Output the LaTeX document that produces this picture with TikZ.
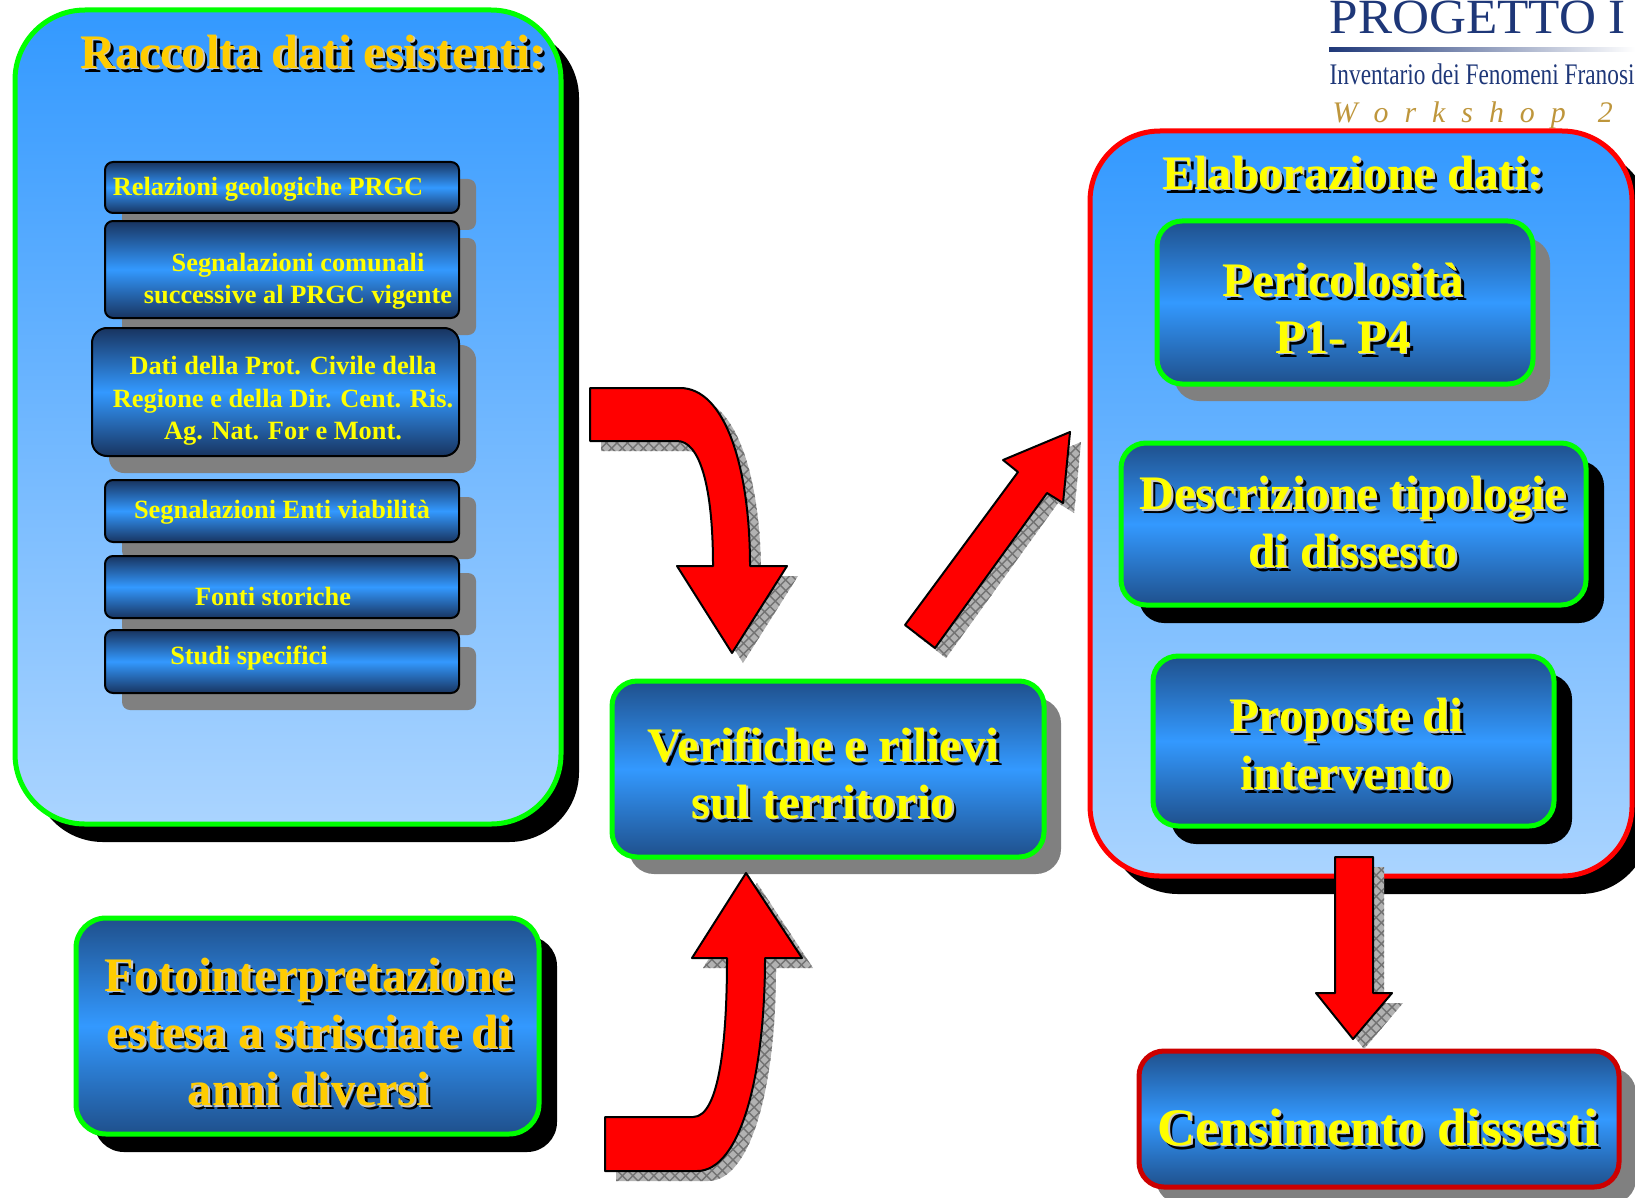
\documentclass[tikz,border=0pt]{standalone}
\usepackage{fontspec}
\setmainfont{Liberation Serif}
\usepackage{graphicx}
\usetikzlibrary{shadows,patterns}

\definecolor{panelTop}{RGB}{51,153,255}
\definecolor{panelBot}{RGB}{170,212,255}
\definecolor{boxDark}{RGB}{31,80,140}
\definecolor{boxNavy}{RGB}{24,52,96}
\definecolor{boxMid}{RGB}{51,153,255}
\definecolor{brdGreen}{RGB}{0,255,0}
\definecolor{brdRed}{RGB}{255,0,0}
\definecolor{brdDkRed}{RGB}{204,0,0}
\definecolor{txtGold}{RGB}{255,204,0}
\definecolor{txtYellow}{RGB}{255,255,0}
\definecolor{shGrey}{RGB}{128,128,128}
\definecolor{txtLight}{RGB}{200,200,200}
\definecolor{logoNavy}{RGB}{30,55,120}
\definecolor{logoGold}{RGB}{190,150,60}

% yellow text with its two shadows
\newcommand{\shlabel}[5][]{%
  \node[bigtext,#1,text=black] at ([xshift=0.04cm,yshift=-0.04cm]#3) {#5};
  \node[bigtext,#1,text=txtLight] at ([xshift=0.015cm,yshift=-0.015cm]#3) {#5};
  \node[bigtext,#1,text=#4] (#2) at (#3) {#5};}
% fat red arrow with hatched shadow
\newcommand{\blockarrow}[1]{%
  \path[arrshadow, xshift=0.11cm, yshift=-0.10cm] #1;
  \draw[arrbody] #1;}
\newcommand{\wsgap}{\hspace{0.16cm}}

\begin{document}
\begin{tikzpicture}[
    panel/.style={rounded corners=0.7cm, line width=0.05cm, top color=panelTop, bottom color=panelBot},
    box/.style={rounded corners=0.25cm, line width=0.05cm, top color=boxDark, bottom color=boxDark, middle color=boxMid},
    item/.style={draw=black, line width=0.02cm, rounded corners=0.08cm, top color=boxNavy, bottom color=boxNavy, middle color=boxMid, minimum width=3.54cm},
    greyshad/.style={general shadow={fill=shGrey, shadow xshift=0.17cm, shadow yshift=-0.17cm}},
    blackshad/.style={general shadow={fill=black, shadow xshift=0.18cm, shadow yshift=-0.18cm}},
    itemtext/.style={text=txtYellow, font=\fontsize{7.5}{9.2}\selectfont\bfseries, align=center, inner sep=0pt},
    bigtext/.style={font=\fontsize{13.7}{16.3}\selectfont\bfseries, align=center, inner sep=0pt},
    arrbody/.style={fill=red, draw=black, line width=0.02cm, line join=round},
    arrshadow/.style={preaction={fill=gray!60}, pattern=crosshatch, pattern color=black!55}
]
    \useasboundingbox (0,0) rectangle (16.35,11.97);

    % Logo
    \node[anchor=base west, inner sep=0pt, text=logoNavy, font=\fontsize{14}{14}\selectfont] (logo) at (13.29,11.63) {\scalebox{1.04}[1]{PROGETTO I}};
    \shade[left color=logoNavy, right color=white] (13.29,11.455) rectangle (16.35,11.495);
    \node[anchor=base west, inner sep=0pt, text=logoNavy, font=\fontsize{8.5}{8.5}\selectfont] (inventario) at (13.29,11.12) {\scalebox{0.78}[1]{Inventario dei Fenomeni Franosi}};
    \node[anchor=base west, inner sep=0pt, text=logoGold, font=\fontsize{8.5}{8.5}\selectfont\itshape] (workshop) at (13.32,10.74) {W\wsgap o\wsgap r\wsgap k\wsgap s\wsgap h\wsgap o\wsgap p\wsgap\wsgap 2};

    % Raccolta dati esistenti
    \node[panel, draw=brdGreen, blackshad, minimum width=5.46cm, minimum height=8.14cm] (raccolta) at (2.88,7.80) {};
    \shlabel{raccoltaT}{3.13,11.45}{txtGold}{Raccolta dati esistenti:}

    \node[item, greyshad, minimum height=0.51cm] (relazioni) at (2.82,10.095) {};
    \node[itemtext] (relazioniT) at (2.68,10.08) {Relazioni geologiche PRGC};
    \node[item, greyshad, minimum height=0.97cm] (comunali) at (2.82,9.275) {};
    \node[itemtext] (comunaliT) at (2.98,9.16) {Segnalazioni comunali\\successive al PRGC vigente};
    \node[item, greyshad, minimum width=3.67cm, minimum height=1.28cm, rounded corners=0.15cm] (protciv) at (2.755,8.05) {};
    \node[itemtext] (protcivT) at (2.83,7.96) {Dati della Prot. Civile della\\Regione e della Dir. Cent. Ris.\\Ag. Nat. For e Mont.};
    \node[item, greyshad, minimum height=0.62cm] (viabilita) at (2.82,6.86) {};
    \node[itemtext] (viabilitaT) at (2.82,6.85) {Segnalazioni Enti viabilità};
    \node[item, greyshad, minimum height=0.62cm] (fonti) at (2.82,6.10) {};
    \node[itemtext] (fontiT) at (2.73,6.01) {Fonti storiche};
    \node[item, greyshad, minimum height=0.63cm] (studi) at (2.82,5.355) {};
    \node[itemtext] (studiT) at (2.49,5.39) {Studi specifici};

    % Fotointerpretazione
    \node[box, draw=brdGreen, blackshad, rounded corners=0.3cm, minimum width=4.63cm, minimum height=2.16cm] (foto) at (3.075,1.71) {};
    \shlabel{fotoT}{3.09,1.65}{txtGold}{Fotointerpretazione\\estesa a strisciate di\\anni diversi}

    % Verifiche
    \node[box, draw=brdGreen, greyshad, minimum width=4.32cm, minimum height=1.76cm] (verifiche) at (8.28,4.28) {};
    \shlabel{verificheT}{8.23,4.24}{txtYellow}{Verifiche e rilievi\\sul territorio}

    % Elaborazione dati
    \node[panel, draw=brdRed, blackshad, minimum width=5.42cm, minimum height=7.45cm] (elaborazione) at (13.61,6.935) {};
    \shlabel[font=\fontsize{13.7}{16}\selectfont\bfseries]{elaborazioneT}{13.53,10.24}{txtYellow}{Elaborazione dati:}

    \node[box, draw=brdGreen, greyshad, minimum width=3.76cm, minimum height=1.63cm] (pericolo) at (13.45,8.945) {};
    \shlabel{pericoloT}{13.43,8.89}{txtYellow}{Pericolosità\\P1- P4}
    \node[box, draw=brdGreen, blackshad, minimum width=4.65cm, minimum height=1.62cm] (tipologie) at (13.535,6.73) {};
    \shlabel{tipologieT}{13.53,6.75}{txtYellow}{Descrizione tipologie\\di dissesto}
    \node[box, draw=brdGreen, blackshad, minimum width=4.01cm, minimum height=1.70cm] (proposte) at (13.535,4.56) {};
    \shlabel{proposteT}{13.46,4.53}{txtYellow}{Proposte di\\intervento}

    % Censimento
    \node[box, draw=brdDkRed, greyshad, minimum width=4.80cm, minimum height=1.36cm] (censimento) at (13.79,0.78) {};
    \shlabel[font=\fontsize{15}{18}\selectfont\bfseries]{censimentoT}{13.78,0.70}{txtYellow}{Censimento dissesti}

    % Arrows
    \blockarrow{(5.90,8.09) -- (6.80,8.09) .. controls (7.25,8.09) and (7.50,7.30) .. (7.50,6.31) -- (7.87,6.31) -- (7.32,5.44) -- (6.77,6.31) -- (7.13,6.31) .. controls (7.13,7.10) and (7.00,7.56) .. (6.77,7.56) -- (5.90,7.56) -- cycle}
    \blockarrow{(6.05,0.80) -- (6.93,0.80) .. controls (7.20,0.80) and (7.27,1.60) .. (7.27,2.39) -- (6.92,2.39) -- (7.46,3.24) -- (8.02,2.39) -- (7.65,2.39) .. controls (7.65,1.20) and (7.40,0.26) .. (6.97,0.26) -- (6.05,0.26) -- cycle}
    \blockarrow{(9.05,5.72) -- (10.18,7.25) -- (10.03,7.37) -- (10.70,7.65) -- (10.63,6.94) -- (10.47,7.04) -- (9.35,5.49) -- cycle}
    \blockarrow{(13.35,3.40) -- (13.73,3.40) -- (13.73,2.04) -- (13.92,2.04) -- (13.53,1.58) -- (13.16,2.04) -- (13.35,2.04) -- cycle}
\end{tikzpicture}
\end{document}
